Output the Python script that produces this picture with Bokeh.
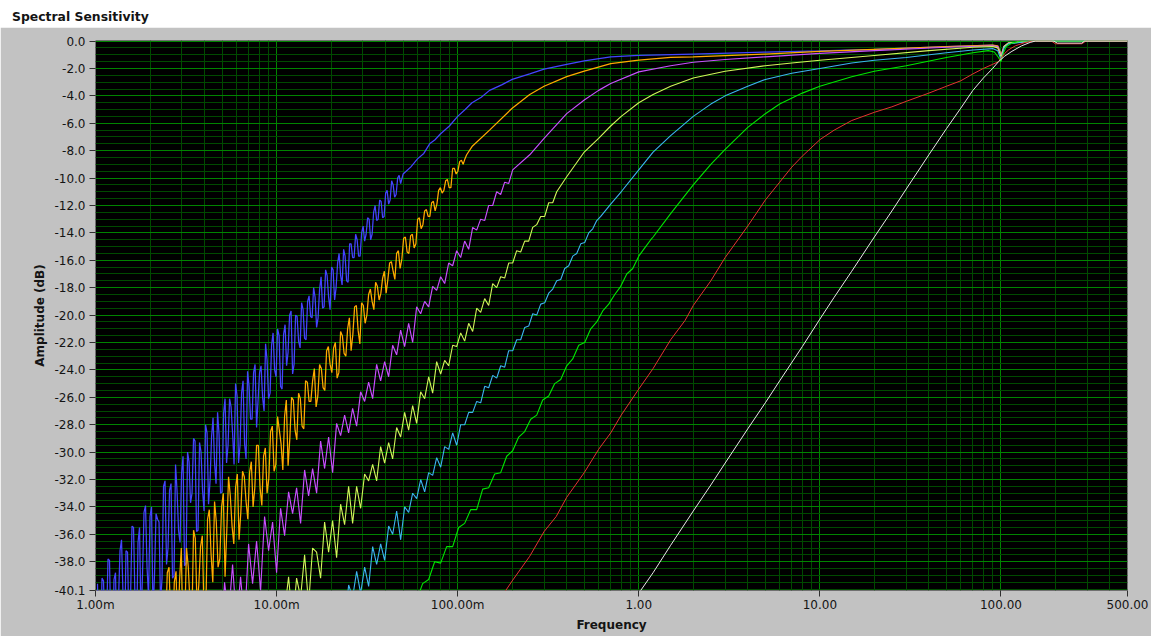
import numpy as np
from bokeh.plotting import figure
from bokeh.models import (FixedTicker, PrintfTickFormatter, CustomJSTickFormatter,
                          Range1d, Div, ColumnDataSource)
from bokeh.layouts import column
from bokeh.embed import file_html
from bokeh.resources import INLINE

# ---------------------------------------------------------------- texts / ticks
TITLE = "Spectral Sensitivity"
X_LABEL = "Frequency"
Y_LABEL = "Amplitude (dB)"

x_tick_values = [0.001, 0.01, 0.1, 1.0, 10.0, 100.0, 500.0]
x_tick_labels = ["1.00m", "10.00m", "100.00m", "1.00", "10.00", "100.00", "500.00"]
x_minor_ticks = [0.002, 0.003, 0.004, 0.005, 0.006, 0.007, 0.008, 0.009,
                 0.02, 0.03, 0.04, 0.05, 0.06, 0.07, 0.08, 0.09,
                 0.2, 0.3, 0.4, 0.5, 0.6, 0.7, 0.8, 0.9,
                 2, 3, 4, 5, 6, 7, 8, 9,
                 20, 30, 40, 50, 60, 70, 80, 90,
                 200, 300, 400]
y_tick_values = [0.0, -2.0, -4.0, -6.0, -8.0, -10.0, -12.0, -14.0, -16.0, -18.0,
                 -20.0, -22.0, -24.0, -26.0, -28.0, -30.0, -32.0, -34.0, -36.0,
                 -38.0, -40.1]
y_minor_ticks = [-0.5, -1.0, -1.5, -2.5, -3.0, -3.5, -4.5, -5.0, -5.5, -6.5, -7.0, -7.5,
                 -8.5, -9.0, -9.5, -10.5, -11.0, -11.5, -12.5, -13.0, -13.5, -14.5, -15.0,
                 -15.5, -16.5, -17.0, -17.5, -18.5, -19.0, -19.5, -20.5, -21.0, -21.5,
                 -22.5, -23.0, -23.5, -24.5, -25.0, -25.5, -26.5, -27.0, -27.5, -28.5,
                 -29.0, -29.5, -30.5, -31.0, -31.5, -32.5, -33.0, -33.5, -34.5, -35.0,
                 -35.5, -36.5, -37.0, -37.5, -38.5, -39.0, -39.5, -40.0]

# ---------------------------------------------------------------- series data
# Each curve: noisy low-frequency samples (log-spaced sample grid between two
# frequencies, dB values read off the picture) + a smoother tail (freq, dB).

blue_noisy_span = (0.0010258, 0.04843)
blue_noisy_db = [-39.6, -44.2, -39.4, -42.5, -37.9, -44.7, -38.8, -40.8, -36.4, -44.0,
                 -37.3, -40.7, -35.5, -43.4, -35.5, -38.9, -33.9, -40.5, -34.0, -38.9,
                 -34.9, -41.0, -32.5, -38.2, -32.8, -39.2, -30.9, -35.7, -31.6, -38.3,
                 -30.0, -33.7, -29.0, -35.8, -29.3,
                 -32.8, -28.0, -33.8, -28.9, -30.8, -27.1, -33.0, -27.2, -30.8, -26.1,
                 -28.6, -25.0, -30.8, -25.7, -29.4, -24.1, -27.6,
                 -24.2, -28.2, -24.2, -26.0, -22.1, -26.1, -22.2, -24.0, -21.0, -25.2,
                 -21.4, -23.7, -20.0, -24.3, -20.0, -21.9,
                 -19.1, -21.7, -19.0, -20.1, -18.0, -20.9, -18.1, -19.5, -16.7, -18.7,
                 -16.5, -18.9, -16.2, -17.1, -15.2, -17.5, -14.8,
                 -15.8, -14.1, -15.7, -14.0, -14.6, -12.9, -14.5, -12.5, -13.1, -11.6,
                 -12.9, -11.1, -11.9, -10.2, -11.4, -10.0, -10.4]
blue_noisy2_span = (0.0010455, 0.04750)
blue_noisy2_db = [-46.7, -39.2, -43.2, -37.8, -43.8, -39.3, -45.4, -37.2, -40.4, -37.2,
                  -43.1, -35.4, -40.8, -36.6, -42.4, -34.4, -38.4, -34.7, -41.8, -34.5,
                  -35.1, -39.2, -32.1, -37.0, -32.3, -39.0, -32.8, -36.6, -30.3, -38.1,
                  -30.7, -33.0, -29.2, -35.7,
                  -30.0, -34.3, -28.6, -32.1, -27.5, -32.3, -28.7, -32.9, -26.1, -29.5,
                  -26.7, -30.9, -25.9, -29.5, -24.8, -30.5, -25.2,
                  -27.6, -23.6, -26.2, -23.7, -27.0, -23.3, -25.7, -21.3, -24.5, -21.5,
                  -25.4, -20.7, -22.7, -19.7, -23.6, -20.1, -22.4,
                  -19.6, -21.8, -18.6, -20.2, -18.7, -20.2, -17.2, -19.4, -17.1, -19.6,
                  -16.7, -18.0, -15.5, -17.8, -15.7, -17.6,
                  -14.8, -15.8, -14.5, -15.7, -13.5, -14.1, -13.0, -14.1, -12.0, -13.0,
                  -11.7, -12.8, -10.9, -11.6, -10.5, -11.2, -9.8]
blue_tail_f = [0.05, 0.055, 0.06, 0.065, 0.07, 0.075, 0.08, 0.09, 0.1, 0.11, 0.12, 0.135,
               0.15, 0.175, 0.2, 0.25, 0.3, 0.4, 0.5, 0.7, 1, 2, 5, 10, 20, 50, 90,
               96, 100.5, 104, 110, 150, 500]
blue_tail_db = [-9.7, -9.2, -8.6, -8.2, -7.5, -7.2, -6.8, -6.2, -5.5, -5.0, -4.5, -4.1,
                -3.6, -3.2, -2.8, -2.4, -2.05, -1.7, -1.45, -1.15, -1.05, -0.95, -0.8,
                -0.72, -0.6, -0.4, -0.3, -0.4, -1.0, -0.4, -0.15, 0.0, 0.0]

orange_noisy_span = (0.002039, 0.1121)
orange_noisy_db = [-45.8, -40.2, -46.8, -40.8, -42.9, -38.4, -44.4, -38.7, -39.4, -43.7,
                   -37.0, -41.1, -35.7, -41.3, -36.9, -41.8, -34.9, -37.4, -33.6, -38.4,
                   -34.0, -39.1, -31.8,
                   -35.4, -32.6, -36.4, -31.4, -33.6, -31.5, -34.0, -29.5, -32.6, -30.3,
                   -33.0, -28.5, -31.4, -27.4, -29.4, -27.4, -31.0, -26.0, -28.4, -25.7,
                   -28.1, -24.8, -26.3, -24.8, -26.7, -23.6, -25.3, -22.6, -23.6, -22.4,
                   -24.6, -21.2, -22.8, -21.0, -22.6, -19.4, -21.1, -19.1,
                   -20.6, -18.5, -19.0, -17.6, -18.9, -17.3, -18.4, -16.2, -16.8, -15.5,
                   -16.6, -14.4, -15.4, -14.2, -15.1, -13.0, -13.7,
                   -12.4, -12.8, -11.8, -12.4, -10.9, -11.1, -10.2, -10.7, -9.3, -9.7,
                   -8.8, -9.0, -8.3]
orange_noisy2_span = (0.0020848, 0.10963)
orange_noisy2_db = [-40.7, -44.8, -40.4, -46.2, -38.8, -42.4, -39.5, -43.8, -37.0, -42.1,
                    -38.4, -42.7, -36.3, -39.7, -36.1, -41.6, -34.2, -39.5, -35.1, -37.8,
                    -33.0, -35.7,
                    -33.2, -36.7, -31.6, -34.4, -31.8, -34.9, -30.7, -32.6, -29.5, -33.9,
                    -29.7, -31.9, -28.1, -30.9, -28.4, -31.3, -26.2, -29.0, -26.2, -29.1,
                    -26.1, -28.3, -24.9, -26.3, -23.9, -25.9, -23.9, -25.5, -22.3, -24.2,
                    -22.0, -24.2, -21.5, -23.0, -20.2, -21.4, -19.3, -22.1,
                    -19.3, -20.0, -18.1, -19.6, -17.9, -18.4, -16.8, -17.4, -16.1, -17.4,
                    -15.3, -15.9, -14.3, -15.5, -14.1, -14.8, -12.9,
                    -13.4, -12.3, -12.8, -11.7, -11.9, -10.7, -10.9, -10.1, -10.7, -9.3,
                    -9.5, -8.7, -8.6]
orange_tail_f = [0.12, 0.15, 0.2, 0.25, 0.3, 0.4, 0.5, 0.7, 1, 1.5, 2, 5, 10, 20, 50, 90,
                 96, 100.5, 104, 110, 150, 500]
orange_tail_db = [-7.7, -6.5, -4.9, -3.9, -3.3, -2.6, -2.2, -1.65, -1.4, -1.2, -1.15,
                  -0.95, -0.75, -0.6, -0.4, -0.3, -0.35, -1.0, -0.4, -0.15, 0.0, 0.0]

violet_noisy_span = (0.004662, 0.2013)
violet_noisy_db = [-41.1, -45.0, -39.5, -42.0, -38.2, -42.5, -39.1, -42.6, -36.7, -39.6,
                   -36.5, -40.1, -34.7, -37.2, -35.1, -38.8,
                   -34.1, -36.1, -32.9, -34.5, -32.6, -35.2, -31.3, -33.2, -31.2, -33.0,
                   -29.2, -31.2, -28.9, -31.5, -27.9,
                   -28.8, -27.3, -28.6, -26.8, -28.1, -25.6, -26.3, -24.9, -26.1, -23.6,
                   -24.8, -23.4, -24.5, -22.2, -22.9, -21.1, -22.3, -20.6, -22.0, -19.4,
                   -19.9, -19.0, -19.4, -17.9, -18.2, -17.2, -17.7, -16.2, -16.4, -15.3,
                   -15.8, -14.6, -15.2, -13.6,
                   -13.8, -13.0, -13.1, -12.0, -12.0, -11.0, -11.2, -10.3, -10.4, -9.4]
violet_tail_f = [0.25, 0.3, 0.4, 0.5, 0.6, 0.7, 1, 1.5, 2, 3, 5, 10, 20, 50, 90,
                 96, 100.5, 104, 110, 150, 500]
violet_tail_db = [-8.3, -7.1, -5.3, -4.3, -3.6, -3.1, -2.25, -1.8, -1.55, -1.35, -1.15,
                  -0.9, -0.7, -0.45, -0.35, -0.4, -1.1, -0.4, -0.15, 0.0, 0.0]

yellow_noisy_span = (0.01, 0.3523)
yellow_noisy_db = [-43.8, -40.3, -41.6, -39.1, -42.5, -39.2, -40.6, -37.5, -41.1, -37.0,
                   -37.3, -39.2, -35.1, -37.3, -35.0, -37.7, -33.8, -35.3, -32.5, -35.2,
                   -32.5,
                   -34.1, -31.6, -32.1, -30.9, -32.1, -29.6, -30.8, -29.3, -30.5, -28.2,
                   -28.9, -27.1, -28.4, -26.6, -27.9, -25.6, -26.1, -24.5, -25.7, -23.4,
                   -24.3, -23.3, -23.7, -22.2, -22.3, -21.3, -21.9, -20.6, -21.2, -19.5,
                   -19.8, -18.8, -19.3, -17.7, -18.0,
                   -17.2, -17.3, -16.2, -16.2, -15.3, -15.4, -14.6, -14.6, -13.6, -13.4,
                   -12.8, -12.8, -11.8, -11.8, -11.0]
yellow_tail_f = [0.4, 0.5, 0.6, 0.7, 0.8, 1, 1.2, 1.5, 2, 3, 5, 7, 10, 20, 40, 70, 90,
                 96, 100.5, 104, 110, 150, 500]
yellow_tail_db = [-9.9, -8.1, -7.1, -6.2, -5.5, -4.5, -3.9, -3.3, -2.7, -2.2, -1.8,
                  -1.6, -1.4, -1.05, -0.7, -0.45, -0.4, -0.5, -1.2, -0.4, -0.15, 0.0, 0.0]

cyan_noisy_span = (0.02258, 0.6167)
cyan_noisy_db = [-40.8, -42.6, -39.7, -40.6, -38.7, -40.3, -38.4, -39.8, -36.9, -38.2,
                 -36.7, -37.9, -35.4, -36.0, -34.3, -36.4,
                 -34.0, -34.4, -33.0, -33.4, -32.0, -32.9, -31.5, -31.7, -30.4, -31.1,
                 -29.6, -29.8, -28.6, -29.5, -28.0,
                 -28.0, -27.1, -27.1, -26.3, -26.4, -25.2, -25.3, -24.4, -24.6, -23.7,
                 -23.8, -22.6, -22.6, -21.8, -21.8, -20.9, -20.8, -19.9,
                 -20.0, -19.2, -19.1, -18.4, -18.1, -17.5, -17.4, -16.6, -16.4, -15.7,
                 -15.5, -14.8, -14.7, -14.0, -13.7, -13.1, -12.8]
cyan_tail_f = [0.7, 0.8, 1, 1.2, 1.5, 2, 2.5, 3, 4, 5, 7, 10, 15, 20, 30, 50, 70, 90,
               96, 100.5, 104, 110, 150, 500]
cyan_tail_db = [-11.9, -11.0, -9.4, -8.1, -6.9, -5.5, -4.6, -4.0, -3.3, -2.8, -2.35,
                -2.0, -1.6, -1.4, -1.2, -0.85, -0.65, -0.55, -0.7, -1.4, -0.5, -0.2,
                0.0, 0.0]

green_noisy_span = (0.05499, 1.165)
green_noisy_db = [-40.8, -40.8, -39.6, -39.3, -38.0, -38.1, -36.9, -36.9, -35.5, -35.2,
                  -34.2, -34.2, -32.7, -32.6, -31.6, -31.5,
                  -30.3, -29.9, -28.9, -28.5, -27.6, -27.3, -26.2, -25.9, -25.0, -24.7,
                  -23.7, -23.2, -22.2, -22.0, -21.0,
                  -20.5, -19.7, -19.2, -18.5, -17.9, -17.0, -16.6, -15.7, -15.1, -14.5]
green_tail_f = [1.2, 1.5, 2, 2.5, 3, 4, 5, 6, 8, 10, 15, 20, 30, 50, 70, 85, 92,
                97, 100, 103, 107, 115, 130, 500]
green_tail_db = [-14.3, -12.6, -10.5, -9.0, -7.9, -6.3, -5.3, -4.6, -3.8, -3.3, -2.6,
                 -2.2, -1.8, -1.2, -0.85, -0.7, -0.8, -1.2, -1.5, -0.9, -0.4, -0.15,
                 0.0, 0.0]

red_f = [0.18, 0.2, 0.25, 0.3, 0.35, 0.4, 0.5, 0.6, 0.7, 0.8, 1, 1.2, 1.5, 1.8, 2, 2.5,
         3, 4, 5, 6, 7, 8, 10, 12, 15, 20, 25, 30, 40, 50, 60, 70, 80, 90, 97, 100,
         105, 110, 120, 135, 150, 190, 200, 280, 295, 500]
red_db = [-40.3, -39.4, -37.6, -35.8, -34.7, -33.3, -31.5, -29.8, -28.6, -27.3, -25.4,
          -23.9, -21.8, -20.4, -19.3, -17.5, -15.8, -13.5, -11.6, -10.3, -9.2, -8.4,
          -7.2, -6.5, -5.8, -5.2, -4.8, -4.4, -3.8, -3.3, -2.9, -2.4, -2.0, -1.7, -1.5,
          -1.25, -0.9, -0.65, -0.35, -0.12, 0.0, 0.0, -0.2, -0.2, 0.0, 0.0]

white_f = [1, 1.2, 1.5, 2, 2.5, 3, 4, 5, 6, 8, 10, 12, 15, 20, 25, 30, 40, 50, 60, 70,
           80, 90, 97, 105, 115, 130, 145, 155, 195, 205, 280, 290, 500]
white_db = [-40.3, -38.8, -36.8, -34.3, -32.4, -30.8, -28.3, -26.4, -24.8, -22.3, -20.3,
            -18.7, -16.8, -14.3, -12.4, -10.8, -8.3, -6.4, -4.9, -3.6, -2.7, -2.0, -1.5,
            -1.1, -0.75, -0.35, -0.1, 0.0, 0.0, -0.15, -0.15, 0.0, 0.0]

curves = [
    ("#4444ff", [(blue_noisy_span, blue_noisy_db), (blue_noisy2_span, blue_noisy2_db)],
     blue_tail_f, blue_tail_db, 1.25),
    ("#ffaa00", [(orange_noisy_span, orange_noisy_db), (orange_noisy2_span, orange_noisy2_db)],
     orange_tail_f, orange_tail_db, 1.25),
    ("#c850ff", [(violet_noisy_span, violet_noisy_db)], violet_tail_f, violet_tail_db, 1.15),
    ("#d2f55a", [(yellow_noisy_span, yellow_noisy_db)], yellow_tail_f, yellow_tail_db, 1.1),
    ("#3cb4f0", [(cyan_noisy_span, cyan_noisy_db)], cyan_tail_f, cyan_tail_db, 1.1),
    ("#00e600", [(green_noisy_span, green_noisy_db)], green_tail_f, green_tail_db, 1.1),
    ("#e63232", [], red_f, red_db, 1.0),
    ("#e8e8e8", [], white_f, white_db, 1.0),
]

# ---------------------------------------------------------------- figure
FONT = "DejaVu Sans"
PANEL = "#c2c2c2"
W = 1151

p = figure(width=W, height=609, x_axis_type="log",
           x_range=Range1d(0.001, 500), y_range=Range1d(-40.1, 0.04),
           output_backend="svg", toolbar_location=None,
           min_border_left=95, min_border_right=24, min_border_top=13,
           min_border_bottom=46, margin=(0, 0, 0, 0),
           background_fill_color="black", border_fill_color=PANEL,
           outline_line_color=None)

xt = FixedTicker(ticks=x_tick_values, minor_ticks=x_minor_ticks)
yt = FixedTicker(ticks=y_tick_values, minor_ticks=y_minor_ticks)
p.xaxis.ticker = xt
p.yaxis.ticker = yt
p.xgrid.ticker = xt
p.ygrid.ticker = yt

p.xaxis.formatter = CustomJSTickFormatter(
    args=dict(vals=x_tick_values, labs=x_tick_labels),
    code="""
    for (let i = 0; i < vals.length; i++) {
        if (Math.abs(vals[i] - tick) <= 1e-6 * Math.abs(vals[i])) { return labs[i]; }
    }
    return "";
    """)
p.yaxis.formatter = PrintfTickFormatter(format="%.1f")

for g in (p.xgrid, p.ygrid):
    g.grid_line_color = "#008400"
    g.grid_line_width = 1
    g.minor_grid_line_color = "#004a00"
    g.minor_grid_line_width = 1

for ax in (p.xaxis, p.yaxis):
    ax.axis_line_color = None
    ax.major_tick_line_color = "#303030"
    ax.major_tick_line_width = 1
    ax.major_tick_in = 0
    ax.major_tick_out = 6
    ax.minor_tick_in = 0
    ax.minor_tick_out = 0
    ax.major_label_text_font = FONT
    ax.major_label_text_font_size = "12px"
    ax.major_label_text_color = "#141414"
    ax.axis_label_text_font = FONT
    ax.axis_label_text_font_size = "12px"
    ax.axis_label_text_font_style = "bold"
    ax.axis_label_text_color = "#141414"

p.xaxis.axis_label = X_LABEL
p.yaxis.axis_label = Y_LABEL
p.xaxis.major_label_standoff = 1
p.xaxis.axis_label_standoff = 3
p.yaxis.major_label_standoff = 4
p.yaxis.axis_label_standoff = 4

for color, parts, tf, tdb, lw in curves:
    pts = []
    for span, vals in parts:
        grid = np.geomspace(span[0], span[1], len(vals))
        pts.extend(zip(grid.tolist(), vals))
    pts.sort(key=lambda t: t[0])
    pts.extend(zip(tf, tdb))
    src = ColumnDataSource(dict(f=[t[0] for t in pts], db=[t[1] for t in pts]))
    p.line("f", "db", source=src, line_color=color, line_width=lw, line_join="bevel")

title = Div(text='<span style="position:relative; top:3px">' + TITLE + '</span>',
            width=W, height=27, margin=(0, 0, 0, 0),
            styles={"font-family": FONT, "font-weight": "bold", "font-size": "12.4px",
                    "padding-left": "12px", "line-height": "27px", "color": "#141414"})

layout = column(title, p, spacing=0)
open("out.html", "w").write(file_html(layout, INLINE))
